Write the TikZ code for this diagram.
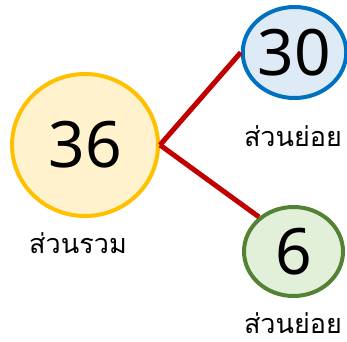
\documentclass[tikz,border=0pt]{standalone}
\usepackage{fontspec}
\setmainfont{Noto Sans}
\newfontfamily\thaifont[Script=Thai]{Loma}
\usetikzlibrary{shapes.geometric}
\definecolor{bigfill}{HTML}{FFF2CC}
\definecolor{bigdraw}{HTML}{FFC000}
\definecolor{topfill}{HTML}{DEEBF7}
\definecolor{topdraw}{HTML}{0070C0}
\definecolor{botfill}{HTML}{E2F0D9}
\definecolor{botdraw}{HTML}{548235}
\definecolor{linkred}{HTML}{C00000}
\tikzset{
  numnode/.style={ellipse, line width=4pt, inner sep=0pt, font=\fontsize{64}{70}\selectfont},
  thailabel/.style={font=\thaifont\fontsize{27}{30}\selectfont, inner sep=0pt, anchor=base, text height=18pt, text depth=1pt},
  link/.style={draw=linkred, line width=5pt}
}
\begin{document}
\begin{tikzpicture}[x=1pt,y=-1pt]
\useasboundingbox (0,0) rectangle (347,341);
\node[numnode, draw=bigdraw, fill=bigfill, minimum width=146pt, minimum height=142pt] (whole) at (85,145) {36};
\node[numnode, draw=topdraw, fill=topfill, minimum width=97pt, minimum height=91pt] (parta) at (294.5,52.5) {30};
\node[numnode, draw=botdraw, fill=botfill, minimum width=99pt, minimum height=89pt] (partb) at (293.5,251.5) {6};
\draw[link] (whole.east) -- (parta.west);
\draw[link] (whole.east) -- (partb.135);
\node[thailabel] (lwhole) at (78,253) {ส่วนรวม};
\node[thailabel] (lparta) at (293,146) {ส่วนย่อย};
\node[thailabel] (lpartb) at (293,333) {ส่วนย่อย};
\end{tikzpicture}
\end{document}
